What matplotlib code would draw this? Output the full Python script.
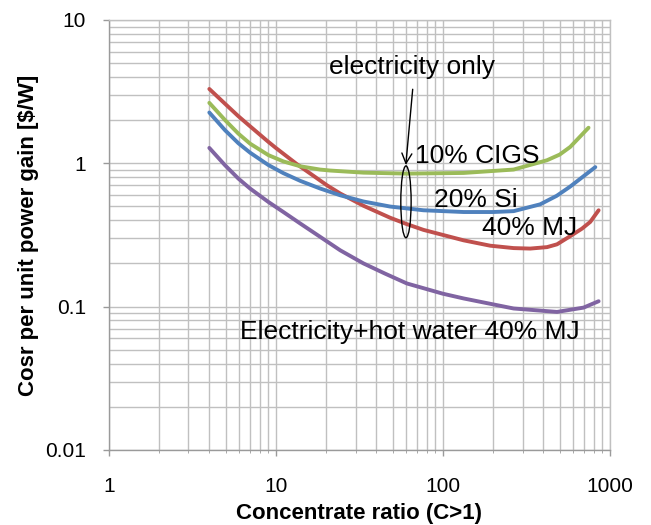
import matplotlib
matplotlib.use("Agg")
import matplotlib.pyplot as plt
from matplotlib.patches import Ellipse
from matplotlib.ticker import FuncFormatter, LogLocator

plt.rcParams["font.family"] = ["Liberation Sans", "DejaVu Sans"]

# cost per unit power gain [$/W] vs concentration ratio
mj_x = [4, 4.97, 5.97, 7.02, 9.03, 10, 13.4, 20.2, 24.3, 33.5, 48.3, 60.9, 76.5,
        133, 192, 265, 333, 420, 482, 578, 680, 762, 855]
mj_y = [3.3, 2.60, 2.13, 1.81, 1.41, 1.28, 0.984, 0.703, 0.615, 0.505, 0.417, 0.376,
        0.343, 0.29, 0.266, 0.256, 0.254, 0.26, 0.272, 0.31, 0.35, 0.39, 0.47]

cigs_x = [4, 4.97, 5.97, 7.02, 9.03, 11.1, 14.0, 18.4, 21.1, 33.5, 60.9, 133, 265,
          420, 500, 578, 744]
cigs_y = [2.64, 2.0, 1.61, 1.37, 1.14, 1.03, 0.953, 0.904, 0.89, 0.86, 0.847, 0.856,
          0.904, 1.05, 1.15, 1.30, 1.77]

si_x = [4, 4.97, 5.97, 7.02, 9.03, 11.1, 14.0, 18.4, 24.3, 33.5, 48.3, 76.5, 133, 200,
        265, 382, 480, 578, 634, 817]
si_y = [2.26, 1.70, 1.38, 1.185, 0.972, 0.853, 0.754, 0.667, 0.598, 0.541, 0.499, 0.47,
        0.457, 0.457, 0.4635, 0.517, 0.593, 0.688, 0.748, 0.94]

hw_x = [4, 4.97, 5.97, 7.02, 9.03, 11.1, 14.0, 18.4, 24.3, 33.5, 45, 60.9, 100, 133,
        265, 482, 695, 855]
hw_y = [1.28, 0.968, 0.782, 0.666, 0.537, 0.457, 0.38, 0.307, 0.247, 0.20, 0.17,
        0.145, 0.123, 0.114, 0.097, 0.0918, 0.0984, 0.109]

blue = "#4F81BD"
red = "#C0504D"
green = "#9BBB59"
purple = "#8064A2"
grid_c = "#c0c0c0"

fig = plt.figure(figsize=(6.51, 5.25), dpi=100)
ax = fig.add_axes([0.167, 0.143, 0.770, 0.819])

for xs, ys, c in [(mj_x, mj_y, red), (cigs_x, cigs_y, green),
                  (si_x, si_y, blue), (hw_x, hw_y, purple)]:
    ax.plot(xs, ys, color=c, lw=2.8, solid_capstyle="round",
            solid_joinstyle="round", zorder=3)

ax.set_xscale("log")
ax.set_yscale("log")
ax.set_xlim(1, 1000)
ax.set_ylim(0.01, 10)

ax.xaxis.set_major_locator(LogLocator(base=10))
ax.xaxis.set_minor_locator(LogLocator(base=10, subs=range(2, 10)))
ax.yaxis.set_major_locator(LogLocator(base=10))
ax.yaxis.set_minor_locator(LogLocator(base=10, subs=range(2, 10)))
fmt = FuncFormatter(lambda v, p: "%g" % v)
ax.xaxis.set_major_formatter(fmt)
ax.yaxis.set_major_formatter(fmt)
ax.xaxis.set_minor_formatter(FuncFormatter(lambda v, p: ""))
ax.yaxis.set_minor_formatter(FuncFormatter(lambda v, p: ""))

ax.grid(which="both", color=grid_c, lw=1.0)
ax.set_axisbelow(True)
for s in ["top", "right"]:
    ax.spines[s].set_color(grid_c)
    ax.spines[s].set_linewidth(1.0)
for s in ["left", "bottom"]:
    ax.spines[s].set_color("#9a9a9a")
    ax.spines[s].set_linewidth(1.0)

ax.tick_params(axis="both", which="major", labelsize=15, color="#9a9a9a",
               length=4.5, width=1.0)
ax.tick_params(axis="y", which="major", pad=12)
ax.tick_params(axis="y", which="minor", length=0)
ax.tick_params(axis="x", which="minor", length=2.5, color="#9a9a9a")
ax.tick_params(axis="x", which="major", pad=15)

ax.set_xlabel("Concentrate ratio (C>1)", fontsize=16, fontweight="bold", labelpad=5)
ax.set_ylabel("Cosr per unit power gain [$/W]", fontsize=16, fontweight="bold",
              labelpad=4)

# curve labels
ax.text(0.606, 0.891, "electricity only", transform=ax.transAxes, fontsize=19,
        ha="center", va="center")
ax.text(0.611, 0.684, "10% CIGS", transform=ax.transAxes, fontsize=19,
        ha="left", va="center")
ax.text(0.6495, 0.581, "20% Si", transform=ax.transAxes, fontsize=19,
        ha="left", va="center")
ax.text(0.744, 0.516, "40% MJ", transform=ax.transAxes, fontsize=19,
        ha="left", va="center")
ax.text(0.262, 0.275, "Electricity+hot water 40% MJ", transform=ax.transAxes,
        fontsize=19, ha="left", va="center")

ax.add_patch(Ellipse((0.593, 0.577), 0.0206, 0.167, transform=ax.transAxes,
                     fill=False, ec="black", lw=1.0, zorder=4))
ax.annotate("", xy=(0.5927, 0.6628), xytext=(0.6064, 0.8388),
            xycoords="axes fraction", textcoords="axes fraction",
            arrowprops=dict(arrowstyle="->", color="black", lw=1.0,
                            shrinkA=0, shrinkB=0, mutation_scale=18))

fig.savefig("out.png", dpi=100)
